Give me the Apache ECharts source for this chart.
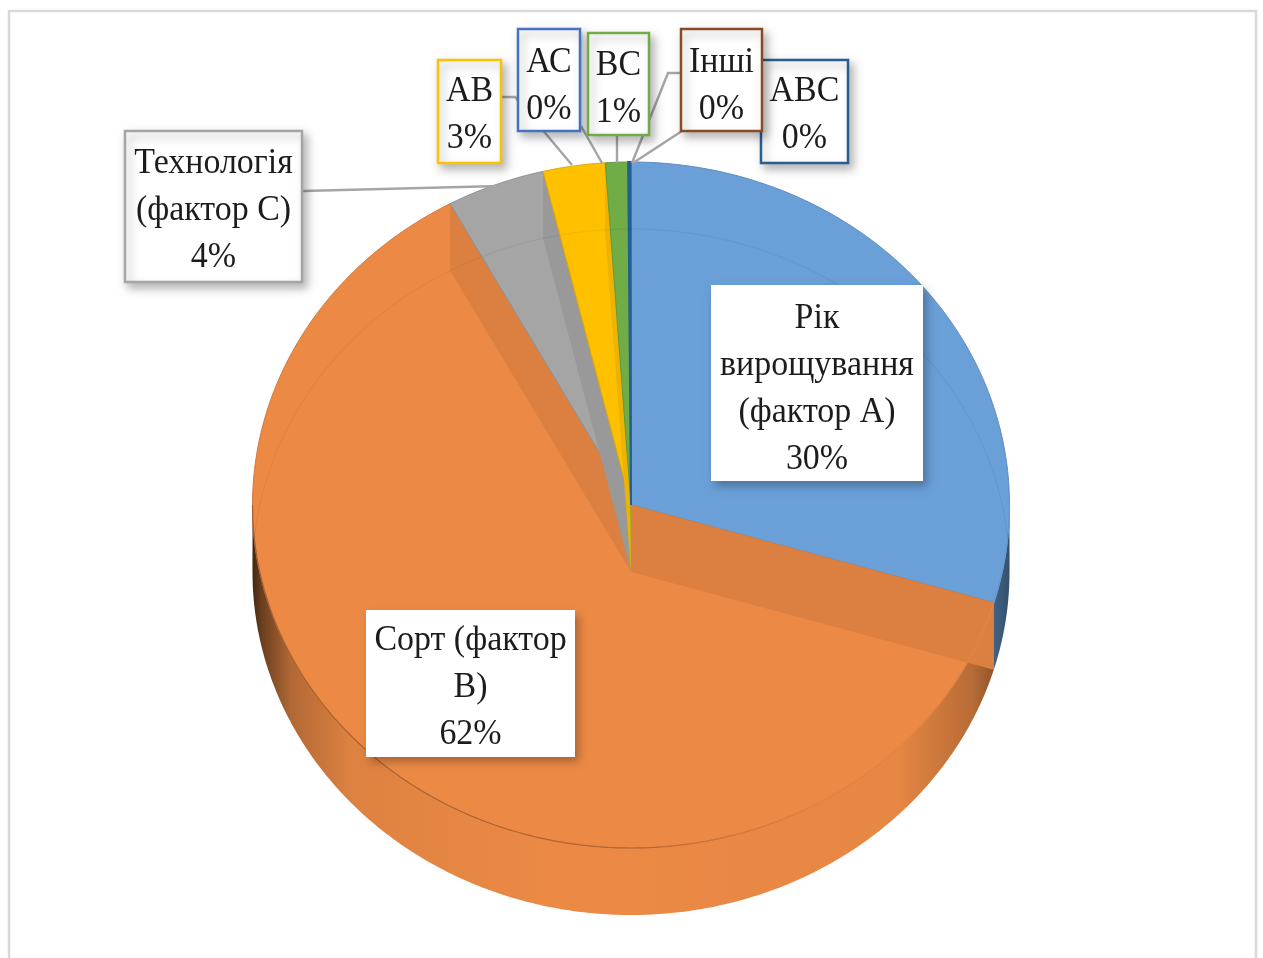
<!DOCTYPE html>
<html>
<head>
<meta charset="utf-8">
<style>html,body{margin:0;padding:0;background:#fff;overflow:hidden}#c{width:1263px;height:958px}</style>
<script src="https://cdn.jsdelivr.net/npm/echarts@6/dist/echarts.min.js"></script>
</head>
<body>
<div id="c"></div>
<script>
// ---- data ----
const names = ['Рік вирощування (фактор А)','Сорт (фактор В)','Технологія (фактор С)','АВ','АС','ВС','АВС','Інші'];
const labelLines = [['Рік','вирощування','(фактор А)'],['Сорт (фактор','В)'],['Технологія','(фактор С)'],['АВ'],['АС'],['ВС'],['АВС'],['Інші']];
const values = [29.6, 62.47, 4.2, 2.63, 0.02, 0.96, 0.1, 0.02];
const colors = ['#6A9FD8','#EC8A45','#A5A5A5','#FFC000','#4472C4','#70AD47','#255E91','#9E480E'];

// ---- layout ----
const C = {x:631, y:505, a:378.5, b:343, depth:67};
const boxes = [
  {x0:711,y0:285,x1:923,y1:481,cy:389,stroke:null},
  {x0:366,y0:610,x1:575,y1:757,cy:688,stroke:null},
  {x0:125,y0:131,x1:302,y1:282,cy:211,stroke:'#A5A5A5'},
  {x0:438,y0:60,x1:501,y1:163,cy:115,stroke:'#FFC000'},
  {x0:518,y0:29,x1:580,y1:131,cy:86,stroke:'#4472C4'},
  {x0:588,y0:33,x1:649,y1:135,cy:89,stroke:'#70AD47'},
  {x0:761,y0:60,x1:848,y1:163,cy:115,stroke:'#255E91'},
  {x0:681,y0:29,x1:762,y1:131,cy:86,stroke:'#8A4B22'}
];
const leaders = [
  [],[],
  [[303,191],[500,186]],
  [[502,97],[515,97],[572,165]],
  [[581,126],[602,163]],
  [[617,136],[617,163]],
  [[760,80],[633,163]],
  [[680,73],[668,73],[632,163]]
];

const total = values.reduce((s,v)=>s+v,0);
const cum = []; values.reduce((s,v,i)=>(cum[i]=s,s+v),0);
const ang = v => v/total*Math.PI*2;
const pt = (t,dz=0) => [C.x+C.a*Math.sin(t), C.y-C.b*Math.cos(t)+dz];
function arc(t0,t1,dz){
  const n=Math.max(2,Math.ceil(Math.abs(t1-t0)/0.01)), r=[];
  for(let i=0;i<=n;i++) r.push(pt(t0+(t1-t0)*i/n,dz));
  return r;
}
function range(i,api){
  const t0=ang(cum[i]); return [t0,t0+ang(api.value(0))];
}
const dark=(c,k)=>{
  const a=echarts.color.parse(c);
  return 'rgb('+Math.round(a[0]*(1-k))+','+Math.round(a[1]*(1-k))+','+Math.round(a[2]*(1-k))+')';
};

// side walls of the front half
function renderSide(p,api){
  const i=p.dataIndex,[t0,t1]=range(i,api);
  const s=Math.max(t0,Math.PI/2), e=Math.min(t1,Math.PI*1.5);
  if(e<=s) return {type:'group',children:[]};
  const pts=arc(s,e,0).concat(arc(e,s,C.depth));
  const c=colors[i];
  return {type:'polygon',shape:{points:pts},style:{
    fill:{type:'linear',global:true,x:C.x-C.a,y:0,x2:C.x+C.a,y2:0,colorStops:[
      {offset:0,color:dark(c,0.72)},{offset:0.012,color:dark(c,0.55)},{offset:0.05,color:dark(c,0.25)},
      {offset:0.13,color:dark(c,0.06)},{offset:0.4,color:dark(c,0.0)},{offset:0.85,color:dark(c,0.02)},
      {offset:0.95,color:dark(c,0.22)},{offset:1,color:dark(c,0.5)}]},
    stroke:null}};
}
// top surface, inner walls seen through it and the faint rim lines
function renderTop(p,api){
  const i=p.dataIndex,[t0,t1]=range(i,api),c=colors[i];
  const tiny=(t1-t0)<0.002;
  const kids=[{type:'polygon',shape:{points:[[C.x,C.y]].concat(arc(t0,t1,0))},
    style:{fill:tiny?'rgba(0,0,0,0)':c,stroke:tiny?null:(i===6?c:dark(c,0.12)),lineWidth:i===6?2:1}}];
  [t0,t1].forEach(t=>{
    const e=pt(t,0),mx=(C.x+e[0])/2,my=(C.y+e[1])/2+C.depth;
    let a=Math.atan2((mx-C.x)/C.a,-(my-C.y)/C.b); if(a<0)a+=Math.PI*2;
    if(a>t0&&a<t1&&Math.abs(t1-t0)>0.02){
      const e2=pt(t,C.depth);
      kids.push({type:'polygon',shape:{points:[[C.x,C.y],e,e2,[C.x,C.y+C.depth]]},
        style:{fill:dark(c,0.07),stroke:null}});
    }
  });
  const s=Math.max(t0,Math.PI/2), e=Math.min(t1,Math.PI*1.5);
  if(e>s) kids.push({type:'polyline',shape:{points:arc(s,e,0)},style:{fill:null,
    stroke:{type:'linear',global:true,x:C.x-C.a,y:0,x2:C.x+C.a,y2:0,colorStops:[
      {offset:0,color:dark(c,0.3)},{offset:0.5,color:dark(c,0.25)},{offset:0.75,color:dark(c,0.04)},{offset:1,color:dark(c,0.04)}]},
    lineWidth:1.2}});
  [[t0,Math.min(t1,Math.PI/2)],[Math.max(t0,Math.PI*1.5),t1]].forEach(([u,v])=>{
    if(v>u) kids.push({type:'polyline',shape:{points:arc(u,v,C.depth)},style:{fill:null,stroke:'rgba(0,0,0,0.05)',lineWidth:1.2}});
  });
  return {type:'group',children:kids};
}
function renderLeader(p){
  const l=leaders[p.dataIndex];
  if(!l.length) return {type:'group',children:[]};
  return {type:'polyline',shape:{points:l},style:{fill:null,stroke:'#A5A5A5',lineWidth:2.4}};
}
function renderLabel(p,api){
  const i=p.dataIndex,b=boxes[i];
  const text=labelLines[i].concat([Math.round(api.value(0))+'%']).join('\n');
  return {type:'group',children:[
    {type:'rect',shape:{x:b.x0,y:b.y0,width:b.x1-b.x0,height:b.y1-b.y0},
      style:{fill:'#fff',stroke:b.stroke,lineWidth:b.stroke?2.5:0,
        shadowBlur:9,shadowOffsetX:4,shadowOffsetY:5,shadowColor:'rgba(0,0,0,0.28)'}},
    {type:'text',x:(b.x0+b.x1)/2,y:b.cy,scaleX:0.97,style:{text:text,x:0,y:0,align:'center',verticalAlign:'middle',
      font:'35px "Liberation Serif"',fill:'#1c1c1c',lineHeight:47}}
  ]};
}

const data = names.map((n,i)=>({name:n,value:values[i]}));
const base = {type:'custom',coordinateSystem:'none',data:data,animation:false,silent:true,clip:false};
const chart = echarts.init(document.getElementById('c'),null,{renderer:'canvas'});
chart.setOption({
  backgroundColor:'#fff',
  animation:false,
  graphic:[{type:'rect',z:0,shape:{x:9,y:11,width:1247,height:1000},style:{fill:'#fff',stroke:'#d9d9d9',lineWidth:2.5}}],
  series:[
    Object.assign({},base,{name:'side',z:2,renderItem:renderSide}),
    Object.assign({},base,{name:'top',z:3,renderItem:renderTop}),
    Object.assign({},base,{name:'leaders',z:4,renderItem:renderLeader}),
    Object.assign({},base,{name:'labels',z:5,renderItem:renderLabel})
  ]
});
</script>
</body>
</html>
